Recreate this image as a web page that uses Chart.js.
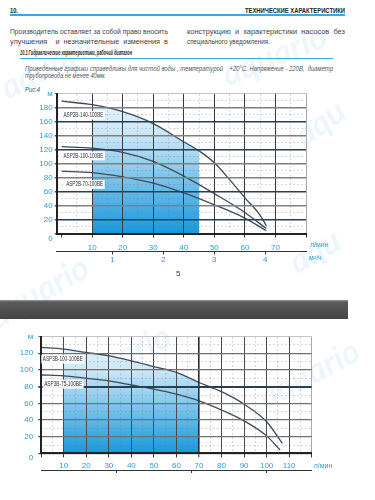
<!DOCTYPE html>
<html lang="ru">
<head>
<meta charset="utf-8">
<title>Технические характеристики</title>
<script src="https://cdn.jsdelivr.net/npm/chart.js@4.4.0/dist/chart.umd.min.js"></script>
<style>
  html, body { margin: 0; padding: 0; }
  body {
    width: 375px; height: 500px; overflow: hidden; position: relative; background: #fff;
    font-family: "Liberation Sans", Arial, sans-serif; color: #444;
  }
  .ln { position: absolute; white-space: nowrap; transform-origin: left center; line-height: 10px; }
  .hdr { font-weight: bold; font-size: 8px; color: #222; }
  .txt { font-size: 7.5px; color: #444; }
  .it { font-style: italic; font-size: 6.8px; color: #555; }
  .rule { position: absolute; background: #3aa8df; }
  .wm { position: absolute; font: italic bold 34px Lato, sans-serif; color: rgba(110,185,230,0.12);
        transform-origin: left top; white-space: nowrap; }
  .band { position: absolute; left: 0; top: 300px; width: 348px; height: 19px;
          background: linear-gradient(#9a9a9a 0, #5a5a5a 2px, #454545 100%); }
  canvas { position: absolute; left: 0; }
</style>
</head>
<body>

<div class="wm" style="left:-8px;top:70px;transform:rotate(-28deg)">aquario</div>
<div class="wm" style="left:215px;top:55px;transform:rotate(-22deg)">aquario</div>
<div class="wm" style="left:-20px;top:300px;transform:rotate(-30deg)">aquario</div>
<div class="wm" style="left:285px;top:120px;transform:rotate(-35deg)">aqu</div>
<div class="wm" style="left:280px;top:245px;transform:rotate(-30deg)">aqu</div>
<div class="wm" style="left:60px;top:360px;transform:rotate(-25deg)">aquario</div>
<div class="wm" style="left:250px;top:380px;transform:rotate(-28deg)">aquario</div>

<div class="ln hdr" style="left:10px;top:6px;" data-fit="8">10.</div>
<div class="ln hdr" style="left:245px;top:6px;" data-fit="100">ТЕХНИЧЕСКИЕ ХАРАКТЕРИСТИКИ</div>
<div class="rule" style="left:10px;top:14px;width:335px;height:1.5px;"></div>

<div class="ln txt" style="left:10px;top:27px;" data-fit="158">Производитель оставляет за собой право вносить</div>
<div class="ln txt" style="left:10px;top:37px;" data-fit="158">улучшения &nbsp;&nbsp; и &nbsp;незначительные &nbsp;изменения &nbsp;в</div>
<div class="ln txt" style="left:187px;top:27px;" data-fit="158">конструкцию &nbsp;и &nbsp;характеристики &nbsp;насосов &nbsp;без</div>
<div class="ln txt" style="left:187px;top:37px;" data-fit="83">специального уведомления.</div>

<div class="ln" style="left:20px;top:49px;font:italic bold 7px 'Liberation Sans',sans-serif;color:#222;" data-fit="112">10.1 Гидравлические характеристики, рабочий диапазон</div>
<div class="rule" style="left:20px;top:58px;width:313px;height:1px;"></div>

<div class="ln it" style="left:25px;top:64px;" data-fit="308">Приведенные графики справедливы для чистой воды , температурой &nbsp;&nbsp; +20°C. Напряжение - 220В, &nbsp;диаметр</div>
<div class="ln it" style="left:25px;top:71px;" data-fit="81">трубопровода не менее 40мм.</div>
<div class="ln it" style="left:25px;top:85px;font-size:7.5px;" data-fit="15">Рис.4</div>

<canvas id="chartASP2B" width="375" height="190" style="top:80px;width:375px;height:190px;"></canvas>

<div class="ln" style="left:176px;top:269px;font-size:8px;color:#333;">5</div>

<div class="band"></div>

<canvas id="chartASP3B" width="375" height="175" style="top:325px;width:375px;height:175px;"></canvas>

<script>
// Рис.4 - ASP2B, head (м) vs flow (л/мин)
const flowA140 = [0, 10, 20, 30, 40, 45, 50, 55, 60, 65, 67];
const headA140 = [189, 184, 174, 157, 131, 118, 101, 77, 51, 26, 11];
const flowA100 = [0, 10, 20, 30, 40, 50, 60, 67];
const headA100 = [124, 122, 116, 103, 82, 57, 30, 7];
const flowA70 = [0, 10, 20, 30, 40, 50, 60, 67];
const headA70 = [89, 87, 81, 72, 58, 41, 22, 4];
const namesA = ['ASP2B-140-100BE', 'ASP2B-100-100BE', 'ASP2B-70-100BE'];
const workRangeA = [10, 45];
const xTicksA = [0, 10, 20, 30, 40, 50, 60, 70, 80];
const m3TicksA = [1, 2, 3, 4];

// ASP3B
const flowB100 = [0, 10, 20, 30, 40, 50, 60, 70, 80, 90, 100, 107];
const headB100 = [127, 125, 121, 117, 111, 104, 97, 85, 74, 59, 38, 12];
const flowB75 = [0, 10, 20, 30, 40, 50, 60, 70, 80, 90, 100, 106];
const headB75 = [94, 93, 90, 87, 82, 77, 71, 63, 52, 39, 21, 4];
const namesB = ['ASP3B-100-100BE', 'ASP3B-75-100BE'];
const workRangeB = [10, 70];
const xTicksB = [0, 10, 20, 30, 40, 50, 60, 70, 80, 90, 100, 110, 120];
const m3TicksB = [2, 4, 6];

const LPM_TO_M3H = 0.06;
const BLUE = '#2a9fdb';
const FONT_FAMILY = '"Liberation Sans Narrow", "Liberation Sans", sans-serif';

function toPoints(xs, ys) {
    return xs.map((x, i) => ({ x: x, y: ys[i] }));
}

function blueGradient(chart) {
    const area = chart.chartArea;
    if (!area) return 'rgba(60,170,225,0.6)';
    const g = chart.ctx.createLinearGradient(0, area.top, 0, area.bottom);
    g.addColorStop(0, 'rgb(242,249,254)');
    g.addColorStop(0.3, 'rgb(200,230,247)');
    g.addColorStop(1, 'rgb(22,152,220)');
    return g;
}

// curve names in white boxes + axis units
const curveLabels = {
    id: 'curveLabels',
    afterDraw(chart, args, opts) {
        const { ctx, scales, chartArea } = chart;
        ctx.save();
        ctx.textBaseline = 'middle';
        opts.items.forEach(it => {
            const px = scales.x.getPixelForValue(it.at[0]);
            const py = scales.y.getPixelForValue(it.at[1]);
            ctx.font = '6.5px ' + FONT_FAMILY;
            const w = ctx.measureText(it.text).width;
            const k = it.width / w;
            ctx.fillStyle = 'rgba(255,255,255,0.92)';
            ctx.fillRect(px - 1.5, py - 4.5, it.width + 3, 9);
            ctx.save();
            ctx.translate(px, py);
            ctx.scale(k, 1);
            ctx.fillStyle = '#333';
            ctx.fillText(it.text, 0, 0);
            ctx.restore();
        });
        ctx.font = '7px ' + FONT_FAMILY;
        ctx.fillStyle = BLUE;
        opts.units.forEach(u => {
            ctx.fillText(u.text, chartArea.right + u.dx, scales[u.scale].top + u.dy);
        });
        ctx.restore();
    }
};

function createPumpChart(canvasId, cfg) {
    const ctx = document.getElementById(canvasId).getContext('2d');
    const tickFont = { family: FONT_FAMILY, size: 8 };

    const datasets = cfg.curves.map(c => ({
        data: toPoints(c.x, c.y),
        borderColor: '#3c4a5a',
        borderWidth: 1.3,
        pointRadius: 0,
        cubicInterpolationMode: 'monotone',
        fill: false
    }));
    // working range filled under the upper curve
    const top = cfg.curves[0];
    datasets.push({
        data: toPoints(top.x, top.y).filter(p => p.x >= cfg.range[0] && p.x <= cfg.range[1]),
        borderWidth: 0,
        pointRadius: 0,
        cubicInterpolationMode: 'monotone',
        fill: 'origin',
        backgroundColor: c => blueGradient(c.chart)
    });

    const minorX = [];
    for (let v = cfg.xMinor; v < cfg.xMax; v += cfg.xMinor * 2) minorX.push(v);
    const minorY = [];
    for (let v = cfg.yStep / 2; v < cfg.yMax; v += cfg.yStep) minorY.push(v);
    const majorY = [];
    for (let v = 0; v <= cfg.yMax; v += cfg.yStep) majorY.push(v);

    return new Chart(ctx, {
        type: 'line',
        data: { datasets: datasets },
        plugins: [curveLabels],
        options: {
            responsive: false,
            animation: false,
            layout: { padding: cfg.padding },
            plugins: {
                legend: { display: false },
                tooltip: { enabled: false },
                curveLabels: {
                    items: cfg.curves.map(c => ({ text: c.name, at: c.labelAt, width: c.labelWidth })),
                    units: cfg.units
                }
            },
            scales: {
                x: {
                    type: 'linear', position: 'bottom', weight: 0,
                    min: cfg.xMin, max: cfg.xMax,
                    afterBuildTicks: s => { s.ticks = cfg.xTicks.map(v => ({ value: v })); },
                    afterFit: s => { s.height = cfg.xHeight; },
                    ticks: {
                        color: BLUE, font: tickFont, padding: cfg.xPad, maxRotation: 0, autoSkip: false,
                        callback: v => (v === 0 || v === cfg.xMax) ? '' : v
                    },
                    grid: {
                        z: 1,
                        color: c => cfg.xGridColor(c.tick.value),
                        lineWidth: c => cfg.xGridWidth(c.tick.value),
                        tickLength: 4, tickColor: '#333', tickWidth: 1
                    },
                    border: { color: '#222', width: 2, z: 2 }
                },
                m3: {
                    type: 'linear', position: 'bottom', weight: 1,
                    min: cfg.xMin * LPM_TO_M3H, max: cfg.xMax * LPM_TO_M3H,
                    afterBuildTicks: s => { s.ticks = cfg.m3Ticks.map(v => ({ value: v })); },
                    afterFit: s => { s.height = cfg.m3Height; },
                    ticks: { display: cfg.m3Labels, color: BLUE, font: tickFont, padding: 0, autoSkip: false },
                    grid: { drawOnChartArea: false, tickLength: 3, tickColor: '#333', color: '#333' },
                    border: { color: '#333', width: 1 }
                },
                y: {
                    type: 'linear', position: 'left',
                    min: 0, max: cfg.yMax,
                    afterBuildTicks: s => { s.ticks = majorY.map(v => ({ value: v })); },
                    afterFit: s => { s.width = cfg.yWidth; },
                    ticks: {
                        color: BLUE, font: tickFont, padding: cfg.yPad, autoSkip: false,
                        callback: v => v === cfg.yMax ? 'м' : (v === 0 ? ['', '0'] : v)
                    },
                    grid: {
                        z: 1,
                        color: c => cfg.yGridColor(c.tick.value),
                        lineWidth: c => cfg.yGridWidth(c.tick.value),
                        tickLength: cfg.yTick, tickColor: '#555'
                    },
                    border: { color: '#222', width: 2, z: 2 }
                },
                xMinor: {
                    type: 'linear', position: 'top',
                    min: cfg.xMin, max: cfg.xMax,
                    afterBuildTicks: s => { s.ticks = minorX.map(v => ({ value: v })); },
                    afterFit: s => { s.height = 0; },
                    ticks: { display: false },
                    grid: { z: 1, drawTicks: false, color: 'rgba(120,120,120,0.4)', lineWidth: 0.7 },
                    border: { display: false, dash: [2, 2] }
                },
                yMinor: {
                    type: 'linear', position: 'left',
                    min: 0, max: cfg.yMax,
                    afterBuildTicks: s => { s.ticks = minorY.map(v => ({ value: v })); },
                    afterFit: s => { s.width = 0; },
                    ticks: { display: false },
                    grid: { z: 1, drawTicks: false, color: 'rgba(120,120,120,0.4)', lineWidth: 0.7 },
                    border: { display: false, dash: [2, 2] }
                }
            }
        }
    });
}

// squeeze each text line to the width it has on the page
function fitLines() {
    document.querySelectorAll('[data-fit]').forEach(el => {
        const target = parseFloat(el.dataset.fit);
        const natural = el.getBoundingClientRect().width;
        if (natural > 0) el.style.transform = 'scaleX(' + (target / natural) + ')';
    });
}

document.addEventListener('DOMContentLoaded', function () {
    fitLines();

    // Рис.4
    createPumpChart('chartASP2B', {
        curves: [
            { x: flowA140, y: headA140, name: namesA[0], labelAt: [0.6, 169], labelWidth: 40 },
            { x: flowA100, y: headA100, name: namesA[1], labelAt: [0.6, 111], labelWidth: 40 },
            { x: flowA70, y: headA70, name: namesA[2], labelAt: [1.5, 70], labelWidth: 37 }
        ],
        range: workRangeA,
        xMin: -1.6, xMax: 80, xMinor: 5, xTicks: xTicksA,
        yMax: 200, yStep: 20,
        m3Ticks: m3TicksA, m3Labels: true,
        padding: { top: 13.5, right: 69, bottom: 4.5, left: 0 },
        xHeight: 18, m3Height: 14, xPad: 5,
        yWidth: 56.7, yTick: 2, yPad: 2,
        xGridColor: v => v === 0 ? 'rgba(0,0,0,0)' : (v === 80 ? '#aaa' : '#3a3a3a'),
        xGridWidth: v => 1,
        yGridColor: v => v === 200 ? '#b5b5b5' : ([160, 120, 60, 20].includes(v) ? '#2a3d52' : '#808080'),
        yGridWidth: v => v === 200 ? 0.8 : 1.4,
        units: [
            { text: 'л/мин', scale: 'x', dx: 4, dy: 12 },
            { text: 'м³/ч', scale: 'm3', dx: 3, dy: 7 }
        ]
    });

    // ASP3B
    createPumpChart('chartASP3B', {
        curves: [
            { x: flowB100, y: headB100, name: namesB[0], labelAt: [0.7, 113], labelWidth: 40 },
            { x: flowB75, y: headB75, name: namesB[1], labelAt: [1.3, 83], labelWidth: 38 }
        ],
        range: workRangeB,
        xMin: 0, xMax: 120, xMinor: 5, xTicks: xTicksB,
        yMax: 140, yStep: 20,
        m3Ticks: m3TicksB, m3Labels: false,
        padding: { top: 11.6, right: 63.3, bottom: 0, left: 0 },
        xHeight: 16.6, m3Height: 30, xPad: 4,
        yWidth: 41.2, yTick: 3, yPad: 5,
        xGridColor: v => v === 70 ? '#1f2d3c' : (v === 120 ? '#aaa' : '#4a4a4a'),
        xGridWidth: v => v === 70 ? 1.6 : 1,
        yGridColor: v => v === 80 ? '#2a3d52' : (v === 140 ? '#b5b5b5' : '#707070'),
        yGridWidth: v => v === 80 ? 2 : (v === 140 ? 0.8 : 1.2),
        units: [
            { text: 'л/мин', scale: 'x', dx: 2, dy: 12.5 }
        ]
    });
});
</script>
</body>
</html>
